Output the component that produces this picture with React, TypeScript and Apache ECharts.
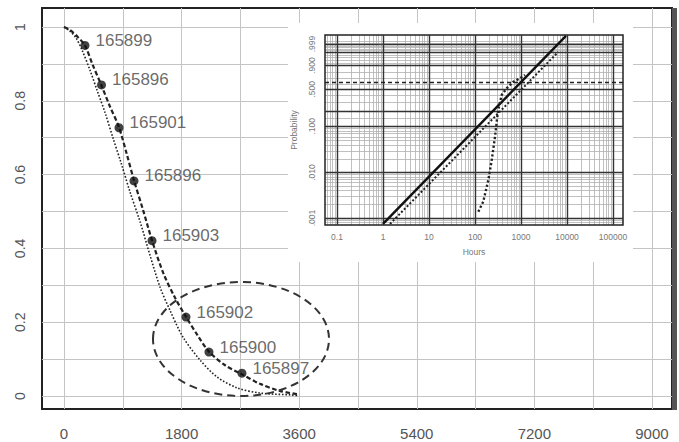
import React, { useEffect, useRef } from "react";
import * as echarts from "echarts";

// ---------- main plot ----------
const xTickValues = [0, 900, 1800, 2700, 3600, 4500, 5400, 6300, 7200, 8100, 9000];
const xLabelValues = [0, 1800, 3600, 5400, 7200, 9000];
const yTickValues = [0, 0.1, 0.2, 0.3, 0.4, 0.5, 0.6, 0.7, 0.8, 0.9, 1];
const yLabelValues = [0, 0.2, 0.4, 0.6, 0.8, 1];

// fitted reliability curve through the points (dashed)
const dashedCurve = [
  [0, 1], [90, 0.992], [210, 0.973], [320, 0.95], [440, 0.897], [570, 0.843],
  [700, 0.786], [840, 0.729], [960, 0.656], [1070, 0.585], [1210, 0.504],
  [1350, 0.42], [1520, 0.333], [1700, 0.266], [1870, 0.214], [2050, 0.163],
  [2220, 0.12], [2460, 0.084], [2710, 0.06], [3000, 0.033], [3300, 0.014], [3600, 0.004],
];
// second reliability curve (dotted)
const dottedCurve = [
  [0, 1], [90, 0.989], [185, 0.97], [275, 0.938], [400, 0.882], [505, 0.829],
  [630, 0.767], [750, 0.699], [875, 0.631], [1010, 0.553], [1165, 0.472],
  [1315, 0.382], [1470, 0.295], [1620, 0.233], [1820, 0.16], [2080, 0.098],
  [2340, 0.052], [2650, 0.022], [3000, 0.008], [3460, 0.003], [3600, 0.001],
];
const pointIds = ["165899", "165896", "165901", "165896", "165903", "165902", "165900", "165897"];
const pointValues = [
  [321, 0.95], [574, 0.843], [842, 0.727], [1071, 0.583],
  [1347, 0.421], [1867, 0.214], [2219, 0.119], [2724, 0.062],
];

// ---------- inset (Weibull probability plot) ----------
const insetDecades = [0.1, 1, 10, 100, 1000, 10000, 100000];
const insetMinorMultipliers = [2, 3, 4, 5, 6, 7, 8, 9];
const insetMinorDecades = [0.01, 0.1, 1, 10, 100, 1000, 10000, 100000];
const insetProbLabels = [0.001, 0.01, 0.1, 0.5, 0.9, 0.999];
const insetProbMajor = [0.001, 0.01, 0.1, 0.2, 0.5, 0.9, 0.99, 0.999];
const insetProbMinor = [
  0.0008, 0.0009, 0.002, 0.003, 0.004, 0.005, 0.006, 0.007, 0.008, 0.009,
  0.02, 0.03, 0.04, 0.05, 0.06, 0.07, 0.08, 0.09, 0.15, 0.3, 0.4,
  0.6, 0.7, 0.8, 0.93, 0.95, 0.97, 0.98, 0.993, 0.995, 0.997, 0.998, 0.9993, 0.9996,
];
const insetFitSolid = [[1, 0.00074], [9500, 0.99997]];
const insetFitDotted = [[1.42, 0.00074], [6400, 0.99]];
const insetEmpirical = [
  [118, 0.00138], [151, 0.0023], [195, 0.0069], [231, 0.019], [272, 0.06],
  [305, 0.158], [321, 0.216], [380, 0.405], [489, 0.517], [680, 0.637],
  [951, 0.703], [1222, 0.762],
];
const insetCharLife = 0.632;

const FONT = "'Liberation Sans', Arial, Helvetica, sans-serif";
const weib = (p: number) => Math.log(-Math.log(1 - p));
const toInset = (d: number[][]) => d.map(([h, p]) => [Math.log10(h), weib(p)]);

const IX_MIN = -1.261, IX_MAX = 5.217;
const IY_MIN = -7.263, IY_MAX = 2.392;

export default function App() {
  const ref = useRef<HTMLDivElement>(null);

  useEffect(() => {
    if (!ref.current) return;
    const chart = echarts.init(ref.current, null, { renderer: "svg" });

    const minorLog: number[] = [];
    insetMinorDecades.forEach((d) =>
      insetMinorMultipliers.forEach((m) => minorLog.push(Math.log10(m * d)))
    );

    const gridGray = "#c4c4c4";

    const option: any = {
      animation: false,
      backgroundColor: "#fff",
      grid: [
        {
          left: 42, top: 8, width: 630, height: 401,
          show: true, borderColor: "#222", borderWidth: 2, backgroundColor: "#fff", z: 0,
        },
        {
          left: 325, top: 35, width: 298, height: 190,
          show: true, borderColor: "#222", borderWidth: 1.5, backgroundColor: "transparent", z: 3,
        },
      ],
      xAxis: [
        {
          gridIndex: 0, type: "value", min: -337, max: 9307, z: 0,
          axisLine: { show: false },
          axisTick: { show: true, customValues: xTickValues, length: 13, lineStyle: { color: gridGray } },
          axisLabel: {
            customValues: xLabelValues, margin: 17, fontSize: 15, color: "#555",
            fontFamily: FONT, formatter: (v: number) => String(v),
          },
          splitLine: { show: true, lineStyle: { color: gridGray, width: 1 } },
        },
        {
          gridIndex: 1, type: "value", min: IX_MIN, max: IX_MAX, z: 3,
          axisLine: { show: false },
          axisTick: {
            show: true, customValues: insetDecades.map((d) => Math.log10(d)), length: 3,
            lineStyle: { color: "#444" },
          },
          axisLabel: {
            customValues: insetDecades.map((d) => Math.log10(d)), margin: 7, fontSize: 8.5,
            color: "#777", fontFamily: FONT,
            formatter: (v: number) => String(Math.round(Math.pow(10, v) * 10) / 10),
          },
          splitLine: { show: true, lineStyle: { color: "#333", width: 1.4 } },
          name: "Hours", nameLocation: "middle", nameGap: 22,
          nameTextStyle: { fontSize: 8.5, color: "#777", fontFamily: FONT },
        },
        {
          gridIndex: 1, type: "value", min: IX_MIN, max: IX_MAX, z: 2,
          axisLine: { show: false },
          axisTick: { show: false, customValues: minorLog },
          axisLabel: { show: false },
          splitLine: { show: true, lineStyle: { color: "#b0b0b0", width: 0.8 } },
        },
      ],
      yAxis: [
        {
          gridIndex: 0, type: "value", min: -0.0352, max: 1.0515, z: 0,
          axisLine: { show: false },
          axisTick: { show: true, customValues: yTickValues, length: 9, lineStyle: { color: gridGray } },
          axisLabel: {
            customValues: yLabelValues, margin: 15, fontSize: 14, color: "#555", rotate: 90,
            fontFamily: FONT, formatter: (v: number) => String(Math.round(v * 10) / 10),
          },
          splitLine: { show: true, lineStyle: { color: gridGray, width: 1 } },
        },
        {
          gridIndex: 1, type: "value", min: IY_MIN, max: IY_MAX, z: 3,
          axisLine: { show: false },
          axisTick: {
            show: true, customValues: insetProbMajor.map(weib), length: 5,
            lineStyle: { color: "#444" },
          },
          axisLabel: {
            customValues: insetProbLabels.map(weib), margin: 9, fontSize: 8.5, rotate: 90,
            color: "#777", fontFamily: FONT,
            formatter: (v: number) => (1 - Math.exp(-Math.exp(v))).toFixed(3).replace(/^0/, ""),
          },
          splitLine: { show: true, lineStyle: { color: "#333", width: 1.4 } },
          name: "Probability", nameLocation: "middle", nameGap: 27, nameRotate: 90,
          nameTextStyle: { fontSize: 8.5, color: "#777", fontFamily: FONT },
        },
        {
          gridIndex: 1, type: "value", min: IY_MIN, max: IY_MAX, z: 2,
          axisLine: { show: false },
          axisTick: { show: false, customValues: insetProbMinor.map(weib) },
          axisLabel: { show: false },
          splitLine: { show: true, lineStyle: { color: "#b0b0b0", width: 0.8 } },
        },
      ],
      graphic: [
        { type: "rect", shape: { x: 288, y: 23, width: 345, height: 239 }, style: { fill: "#fff" }, z: 1 },
        { type: "rect", shape: { x: 672, y: 8, width: 5, height: 402 }, style: { fill: "#555" }, z: 5 },
        {
          type: "ellipse", shape: { cx: 241, cy: 339, rx: 88, ry: 57 },
          style: { fill: "none", stroke: "#333", lineWidth: 2, lineDash: [8, 5] }, z: 5,
        },
      ],
      series: [
        {
          type: "line", xAxisIndex: 0, yAxisIndex: 0, data: dottedCurve, symbol: "none", smooth: 0.3,
          lineStyle: { color: "#222", width: 1.6, type: [1.6, 1.8] }, z: 3,
        },
        {
          type: "line", xAxisIndex: 0, yAxisIndex: 0, data: dashedCurve, symbol: "none", smooth: 0.3,
          lineStyle: { color: "#222", width: 2.2, type: [4.5, 2.5] }, z: 3,
        },
        {
          type: "scatter", xAxisIndex: 0, yAxisIndex: 0, data: pointValues, symbolSize: 9,
          itemStyle: { color: "#111" }, z: 4,
          label: {
            show: true, position: "right", distance: 6, offset: [0, -5],
            formatter: (p: any) => pointIds[p.dataIndex], fontSize: 17, color: "#444", fontFamily: FONT,
          },
        },
        {
          type: "line", xAxisIndex: 1, yAxisIndex: 1, data: toInset(insetFitSolid), symbol: "none",
          lineStyle: { color: "#111", width: 2.4 }, z: 6,
          markLine: {
            silent: true, symbol: "none", label: { show: false },
            lineStyle: { color: "#222", width: 1.4, type: [4, 3] },
            data: [{ yAxis: weib(insetCharLife) }],
          },
        },
        {
          type: "line", xAxisIndex: 1, yAxisIndex: 1, data: toInset(insetFitDotted), symbol: "none",
          lineStyle: { color: "#222", width: 2, type: [2, 2] }, z: 6,
        },
        {
          type: "line", xAxisIndex: 1, yAxisIndex: 1, data: toInset(insetEmpirical), symbol: "none",
          lineStyle: { color: "#222", width: 2.4, type: [2.2, 2.2] }, z: 6,
        },
      ],
    };

    chart.setOption(option);
    return () => chart.dispose();
  }, []);

  return (
    <div
      ref={ref}
      style={{ position: "fixed", left: 0, top: 0, width: 679, height: 442, background: "#fff" }}
    />
  );
}
